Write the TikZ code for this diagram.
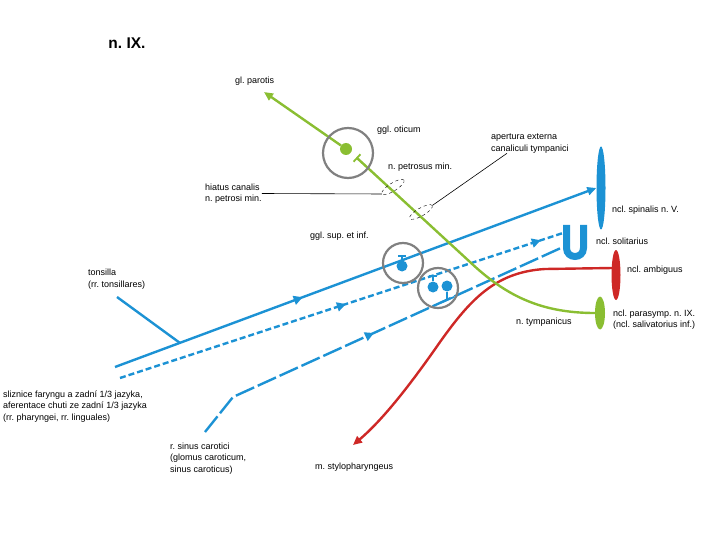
\documentclass[tikz,border=0pt]{standalone}
\usepackage{fontspec}
\setmainfont{Liberation Sans}
\usetikzlibrary{arrows.meta,decorations.markings,shapes.geometric}
\definecolor{nblue}{RGB}{28,146,212}
\definecolor{ngreen}{RGB}{138,190,50}
\definecolor{nred}{RGB}{206,40,38}
\definecolor{ngray}{RGB}{128,128,128}
\frenchspacing
\begin{document}
\begin{tikzpicture}[x=1pt, y=-1pt,
    lbl/.style={font=\fontsize{9}{11.5}\selectfont, align=left, anchor=west, inner sep=0pt},
    fibre/.style={line width=2.4pt, #1},
    tip/.style={-{Triangle[length=9pt,width=8pt]}},
    midarrow/.style={postaction={decorate, decoration={markings, mark=at position #1 with {\arrow{Triangle[length=9pt,width=9pt]}}}}},
    ggl/.style={circle, draw=ngray, line width=2.2pt, minimum size=#1, inner sep=0pt},
    ncl/.style={ellipse, fill=#1, inner sep=0pt},
    soma/.style={circle, fill=#1, minimum size=11pt, inner sep=0pt},
    hole/.style={ellipse, draw, dashed, line width=0.4pt, minimum width=26pt, minimum height=8pt, inner sep=0pt, rotate=#1},
    leader/.style={line width=0.6pt},
    synapse/.style={line width=1.8pt, #1}]
    \useasboundingbox (0,0) rectangle (720,540);

    % Title
    \node[font=\bfseries\fontsize{15.5}{18}\selectfont] (title) at (127,43) {n. IX.};

    % Nuclei
    \node[ncl=nblue, minimum width=9pt, minimum height=83pt] (spinalis) at (601,188) {};
    \node[ncl=nred, minimum width=9pt, minimum height=50pt] (ambiguus) at (616,275) {};
    \node[ncl=ngreen, minimum width=10pt, minimum height=33pt] (parasymp) at (600,313) {};
    \draw[nblue, line width=7pt] (566.5,225) -- (566.5,248) .. controls (566.5,259.3) and (583.5,259.3) .. (583.5,248) -- (583.5,225);

    % Sensory fibres (blue)
    \coordinate (l1a) at (115,367);
    \coordinate (tonsend) at (117,297);
    \coordinate (tons) at (180,343);
    \coordinate (l2a) at (120,378);
    \coordinate (solit) at (563,233);
    \coordinate (l3a) at (205,432);
    \coordinate (l3b) at (233,397);
    \coordinate (solit2) at (563,247);
    \draw[fibre=nblue, tip, midarrow=0.39] (l1a) -- (spinalis.west);
    \draw[fibre=nblue] (tonsend) -- (tons);
    \draw[fibre=nblue, dash pattern=on 6pt off 3pt, midarrow=0.51, midarrow=0.95] (l2a) -- (solit);
    \draw[fibre=nblue, dash pattern=on 20pt off 4pt, midarrow=0.49] (l3a) -- (l3b) -- (solit2);

    % Motor fibre (red)
    \coordinate (ambin) at (613,268);
    \coordinate (stylo) at (353,445);
    \draw[fibre=nred, tip] (ambin) -- (545,269) .. controls (495,272) and (470,300) .. (440,342) .. controls (415,378) and (385,418) .. (stylo);

    % Parasympathetic fibre (green)
    \coordinate (parotisend) at (264,92);
    \coordinate (gT) at (357,158);
    \coordinate (gbend) at (470,262);
    \draw[fibre=ngreen] (parasymp.west) .. controls (540,313) and (505,295) .. (gbend) -- (gT);
    \draw[synapse=ngreen] (353.6,161.7) -- (360.4,154.3);
    \node[soma=ngreen, minimum size=12pt] (otdot) at (346,149) {};
    \draw[fibre=ngreen, tip] (otdot) -- (parotisend);

    % Ganglia
    \node[ggl=50pt] (oticum) at (348,153) {};
    \node[ggl=40pt] (gglsup) at (403,263) {};
    \node[ggl=40pt] (gglinf) at (438,288) {};
    \node[soma=nblue] (supdot) at (402,266) {};
    \draw[synapse=nblue] (supdot) -- (402,256);
    \draw[synapse=nblue] (398,256) -- (406,256);
    \node[soma=nblue] (infdot1) at (433,287) {};
    \draw[synapse=nblue] (infdot1) -- (433,276);
    \draw[synapse=nblue] (429,276) -- (437,276);
    \node[soma=nblue] (infdot2) at (447,286) {};
    \draw[synapse=nblue] (infdot2) -- (447,300);
    \draw[synapse=nblue] (440,303) -- (454,297);

    % Openings
    \node[hole=32] (hiatus) at (393,187) {};
    \node[hole=30] (apertura) at (421,212) {};

    % Labels
    \node[lbl] (parotis) at (235,81) {gl. parotis};
    \node[lbl] (oticumlbl) at (377,130) {ggl. oticum};
    \node[lbl] (petrosus) at (388,167) {n. petrosus min.};
    \node[lbl] (hiatuslbl) at (205,193.5) {hiatus canalis\\n. petrosi min.};
    \node[lbl] (aperturalbl) at (491,143.5) {apertura externa\\canaliculi tympanici};
    \node[lbl] (spinalislbl) at (612,210) {ncl. spinalis n. V.};
    \node[lbl] (solitlbl) at (596,241) {ncl. solitarius};
    \node[lbl] (ambiguuslbl) at (627,270) {ncl. ambiguus};
    \node[lbl] (parasymplbl) at (613,319.5) {ncl. parasymp. n. IX.\\(ncl. salivatorius inf.)};
    \node[lbl] (tympanicus) at (516,322) {n. tympanicus};
    \node[lbl] (ggllbl) at (310,236) {ggl. sup. et inf.};
    \node[lbl] (tonsilla) at (88,279) {tonsilla\\(rr. tonsillares)};
    \node[lbl] (sliznice) at (3,406.5) {sliznice faryngu a zadní 1/3 jazyka,\\aferentace chuti ze zadní 1/3 jazyka\\(rr. pharyngei, rr. linguales)};
    \node[lbl] (sinus) at (170,458.5) {r. sinus carotici\\(glomus caroticum,\\sinus caroticus)};
    \node[lbl] (stylolbl) at (315,467) {m. stylopharyngeus};

    % Leaders
    \draw[leader] (hiatuslbl.east) -- (hiatus.west);
    \draw[leader] ([xshift=16pt]aperturalbl.south west) -- (apertura.east);
\end{tikzpicture}
\end{document}
